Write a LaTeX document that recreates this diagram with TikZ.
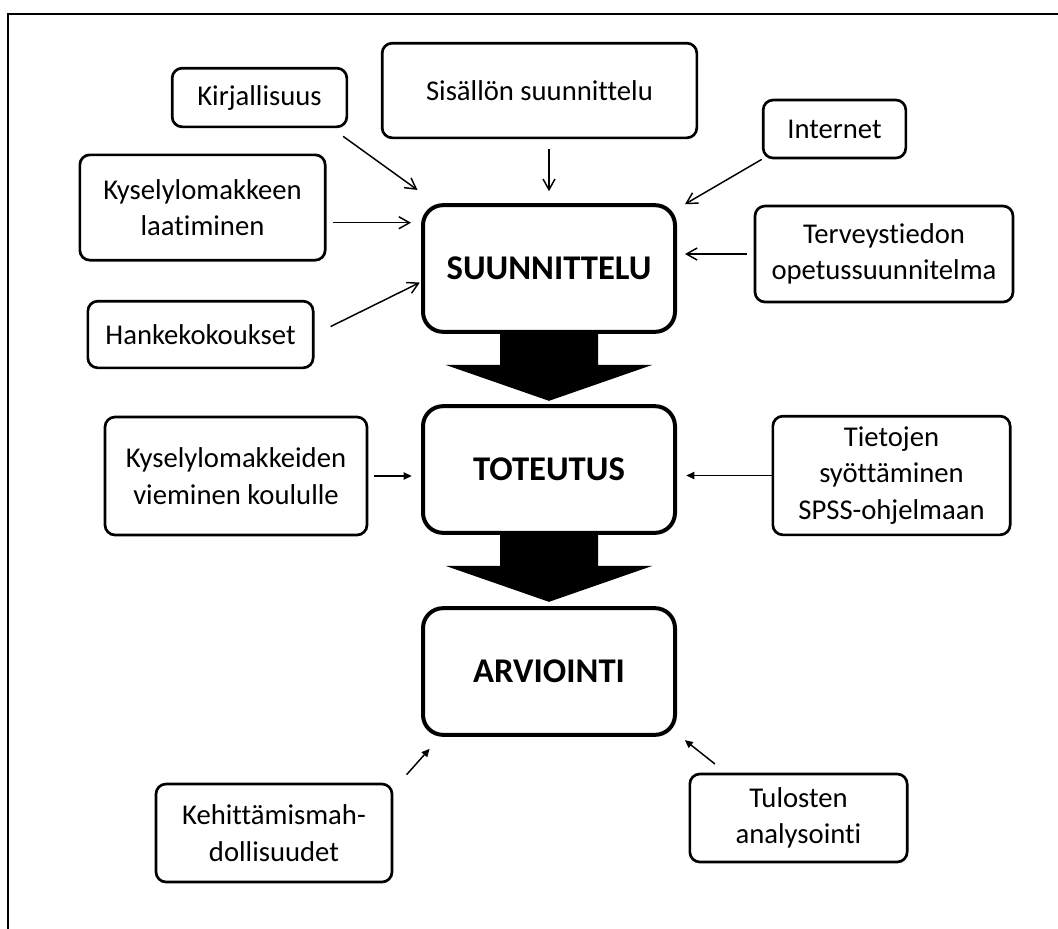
\documentclass[tikz,border=0pt]{standalone}
\usepackage{fontspec}
\setmainfont{Carlito}[Ligatures={TeX,NoCommon}]
\usetikzlibrary{arrows.meta}
\tikzset{x=0.75pt, y=-0.75pt,
every node/.style={align=center, inner sep=0pt},
box/.style={draw, line width=2pt, rounded corners=7.5pt, font=\fontsize{21.5}{27.5}\selectfont},
phase/.style={draw, line width=3pt, rounded corners=15pt, minimum width=189pt, minimum height=95pt, font=\fontsize{26}{30}\selectfont\bfseries},
inarr/.style={line width=1.1pt, -{Straight Barb[length=8pt, width=9pt]}},
outarr/.style={line width=1.1pt, -{Triangle[length=6pt, width=5.5pt]}},
}

\begin{document}
\begin{tikzpicture}
    \useasboundingbox (0,0) rectangle (1058,929);
    \draw[line width=1.9pt] (8,929) -- (8,14) -- (1058,14);

    % phases
    \node[phase] (suun) at (549,268.5) {SUUNNITTELU};
    \node[phase] (toteu) at (549,469.5) {TOTEUTUS};
    \node[phase] (arvi) at (549,671.5) {ARVIOINTI};
    \foreach \a in {suun,toteu}
        \fill (\a.south) ++(-49,0) -- ++(0,31) -- ++(-54.5,0) -- ++(103.5,36)
            -- ++(103.5,-36) -- ++(-54.5,0) -- ++(0,-31) -- cycle;

    % inputs
    \node[box, minimum width=131pt, minimum height=44pt] (kirj) at (259.5,97.5) {Kirjallisuus};
    \node[box, minimum width=236pt, minimum height=71pt] (sis) at (539.5,90.5) {Sisällön suunnittelu};
    \node[box, minimum width=107pt, minimum height=43.5pt] (inter) at (834.5,129) {Internet};
    \node[box, minimum width=184pt, minimum height=79pt] (kysl) at (202.5,207.5) {Kyselylomakkeen\\laatiminen};
    \node[box, minimum width=193.5pt, minimum height=72pt] (terv) at (884,254) {Terveystiedon\\opetussuunnitelma};
    \node[box, minimum width=169pt, minimum height=50pt] (hank) at (200.5,334.5) {Hankekokoukset};
    \node[box, minimum width=196.5pt, minimum height=88.5pt] (kyslv) at (236,476) {Kyselylomakkeiden\\vieminen koululle};
    \node[box, minimum width=178pt, minimum height=89pt] (tiet) at (891.5,475.5) {Tietojen\\syöttäminen\\SPSS-ohjelmaan};
    \node[box, minimum width=177pt, minimum height=73.5pt] (kehi) at (274,833) {Kehittämismah-\\dollisuudet};
    \node[box, minimum width=163pt, minimum height=66pt] (tulo) at (798.5,818) {Tulosten\\analysointi};

    \draw[inarr, shorten <=10.5pt, shorten >=17pt] (kirj.-23.5) -- (suun.150);
    \draw[inarr, shorten <=7.5pt, shorten >=9pt] (suun.north |- sis.south) -- (suun.north);
    \draw[inarr, shorten >=7pt] (inter.south west) -- (suun.25);
    \draw[inarr, shorten <=4.5pt, shorten >=7.5pt] (kysl.-7) -- (kysl.-7 -| suun.west);
    \draw[inarr, shorten <=13.5pt, shorten >=1pt] (hank.east) -- (suun.186);
    \draw[inarr, shorten <=5pt, shorten >=6pt] (terv.west) -- (terv.west -| suun.east);
    \draw[outarr, shorten <=4pt, shorten >=7pt] (kyslv.east) -- (kyslv.east -| toteu.west);
    \draw[outarr, shorten >=7pt] (tiet.west) -- (tiet.west -| toteu.east);
    \draw[outarr, shorten <=15pt, shorten >=12pt] (kehi.20) -- (arvi.211);
    \draw[outarr, shorten <=10.5pt, shorten >=7.5pt] (tulo.148) -- (arvi.-26);
\end{tikzpicture}
\end{document}
